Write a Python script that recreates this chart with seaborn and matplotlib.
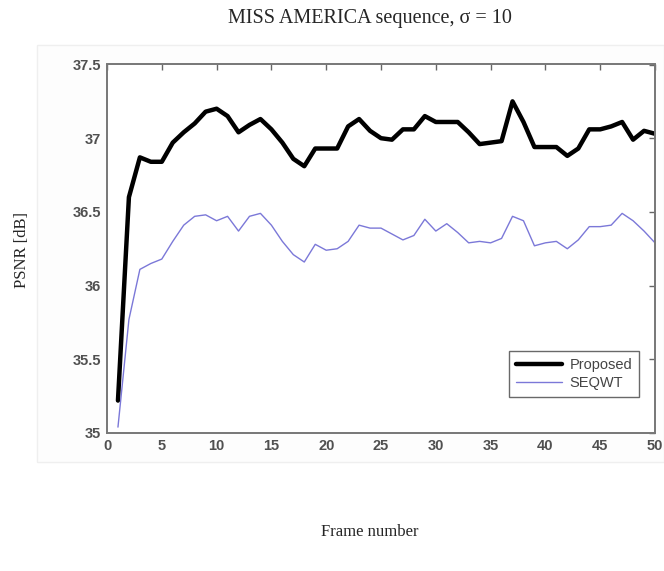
import numpy as np
import pandas as pd
import seaborn as sns
import matplotlib.pyplot as plt
from matplotlib.patches import Rectangle

frames = list(range(1, 51))
proposed = [35.22, 36.60, 36.87, 36.84, 36.84, 36.97, 37.04, 37.10, 37.18, 37.20,
            37.15, 37.04, 37.09, 37.13, 37.06, 36.97, 36.86, 36.81, 36.93, 36.93,
            36.93, 37.08, 37.13, 37.05, 37.00, 36.99, 37.06, 37.06, 37.15, 37.11,
            37.11, 37.11, 37.04, 36.96, 36.97, 36.98, 37.25, 37.11, 36.94, 36.94,
            36.94, 36.88, 36.93, 37.06, 37.06, 37.08, 37.11, 36.99, 37.05, 37.03]
seqwt = [35.04, 35.77, 36.11, 36.15, 36.18, 36.30, 36.41, 36.47, 36.48, 36.44,
         36.47, 36.37, 36.47, 36.49, 36.41, 36.30, 36.21, 36.16, 36.28, 36.24,
         36.25, 36.30, 36.41, 36.39, 36.39, 36.35, 36.31, 36.34, 36.45, 36.37,
         36.42, 36.36, 36.29, 36.30, 36.29, 36.32, 36.47, 36.44, 36.27, 36.29,
         36.30, 36.25, 36.31, 36.40, 36.40, 36.41, 36.49, 36.44, 36.37, 36.29]
xticks = [0, 5, 10, 15, 20, 25, 30, 35, 40, 45, 50]
yticks = [35, 35.5, 36, 36.5, 37, 37.5]
ytick_labels = ['35', '35.5', '36', '36.5', '37', '37.5']

df = pd.DataFrame({'frame': frames * 2,
                   'psnr': proposed + seqwt,
                   'method': ['Proposed'] * 50 + ['SEQWT'] * 50})

sns.set_style('white')
fig = plt.figure(figsize=(6.64, 5.71), dpi=100)

# faint grey figure panel behind the axes
fig.patches.append(Rectangle((37 / 664, 1 - 462 / 571), 627 / 664, 417 / 571,
                             transform=fig.transFigure, facecolor='#fdfdfd',
                             edgecolor='#efefef', linewidth=1, zorder=-5))

ax = fig.add_axes([107 / 664, 1 - 433 / 571, 548 / 664, 368.5 / 571])
ax.set_zorder(1)
sns.lineplot(data=df, x='frame', y='psnr', hue='method', size='method',
             sizes={'Proposed': 3.2, 'SEQWT': 1.0},
             palette={'Proposed': 'black', 'SEQWT': '#7b78d8'}, ax=ax)

ax.set_xlim(0, 50)
ax.set_ylim(35, 37.5)
ax.set_xticks(xticks)
ax.set_yticks(yticks)
ax.set_yticklabels(ytick_labels)
ax.set_xlabel('')
ax.set_ylabel('')
ax.tick_params(direction='in', length=4, width=1, color='#666666',
               top=True, right=True, labelsize=10.5, labelcolor='#505050', pad=4)
for lab in ax.get_xticklabels() + ax.get_yticklabels():
    lab.set_fontweight('bold')
    lab.set_family('Liberation Sans')
for s in ax.spines.values():
    s.set_color('#777777')
    s.set_linewidth(1.4)

leg = ax.legend(loc='lower right', bbox_to_anchor=(0.984, 0.079), frameon=True,
                fancybox=False, fontsize=10.5, handlelength=3.2,
                borderpad=0.45, labelspacing=0.3, handletextpad=0.5)
leg.get_frame().set_edgecolor('#444444')
leg.get_frame().set_linewidth(1.0)
for t in leg.get_texts():
    t.set_color('#444444')
    t.set_family('Liberation Sans')

fig.text(0.557, 1 - 19 / 571, 'MISS AMERICA sequence, σ = 10', ha='center', va='center',
         family='Liberation Serif', fontsize=14.5)
fig.text(0.557, 1 - 532 / 571, 'Frame number', ha='center', va='center',
         family='Liberation Serif', fontsize=12)
fig.text(22 / 664, 1 - 250 / 571, 'PSNR [dB]', ha='center', va='center',
         rotation=90, family='Liberation Serif', fontsize=12)

fig.savefig('out.png', dpi=100)
